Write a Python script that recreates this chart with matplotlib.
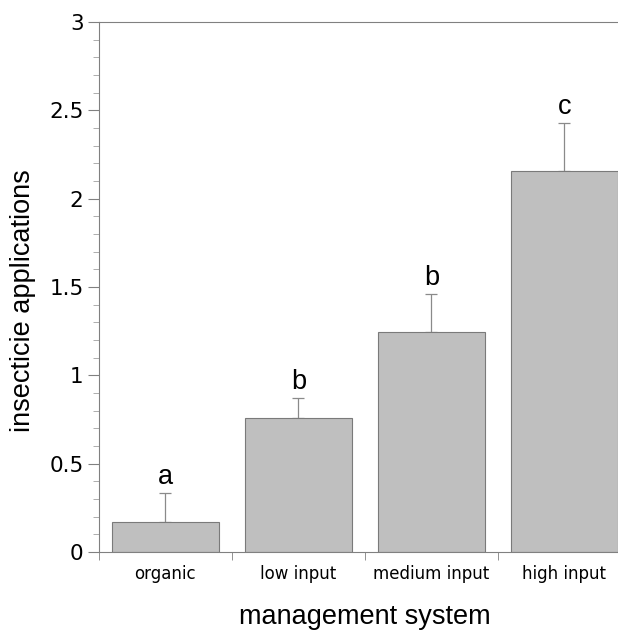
import matplotlib.pyplot as plt
import numpy as np

systems = ["organic", "low input", "medium input", "high input"]
applications = [0.17, 0.76, 1.245, 2.155]
errors = [0.165, 0.11, 0.215, 0.275]
letters = ["a", "b", "b", "c"]

fig = plt.figure(figsize=(6.18, 6.35), dpi=100)
ax = fig.add_axes([0.160, 0.1307, 0.861, 0.8346])

x = np.arange(len(systems))
ax.bar(x, applications, width=0.8, color="#bfbfbf", edgecolor="#7a7a7a", linewidth=0.8, zorder=2)
ax.errorbar(x, applications, yerr=[np.zeros(len(x)), errors], fmt="none",
            ecolor="#8a8a8a", elinewidth=0.9, capsize=4, capthick=0.9, zorder=1)

# significance letters above the error bars
for xi, v, e, t in zip(x, applications, errors, letters):
    ax.text(xi, v + e + 0.05, t, ha="center", va="baseline", fontsize=19.5,
            family="Liberation Sans")

ax.set_xlim(-0.5, 3.5)
ax.set_ylim(0, 3)
ax.set_yticks(np.arange(0, 3.01, 0.5))
ax.set_yticklabels(["0", "0.5", "1", "1.5", "2", "2.5", "3"], fontsize=15.5)
ax.set_yticks(np.arange(0, 3.01, 0.1), minor=True)
ax.set_xticks(x)
ax.set_xticklabels(systems, fontsize=12)
ax.set_xticks(np.arange(-0.5, 3.6, 1), minor=True)
ax.tick_params(axis="x", which="major", length=0, pad=9)
ax.tick_params(axis="x", which="minor", length=6, color="#808080")
ax.tick_params(axis="y", which="major", length=8, color="#808080", pad=3)
ax.tick_params(axis="y", which="minor", length=4, color="#a0a0a0")

for s in ax.spines.values():
    s.set_color("#808080")
    s.set_linewidth(0.8)
ax.spines["right"].set_visible(False)

fig.text(0.591, 0.028, "management system", ha="center", va="center", fontsize=19.5,
         family="Liberation Sans")
fig.text(0.037, 0.526, "insecticie applications", ha="center", va="center", fontsize=19.5,
         rotation=90, family="Liberation Sans")

fig.savefig("out.png", dpi=100)
